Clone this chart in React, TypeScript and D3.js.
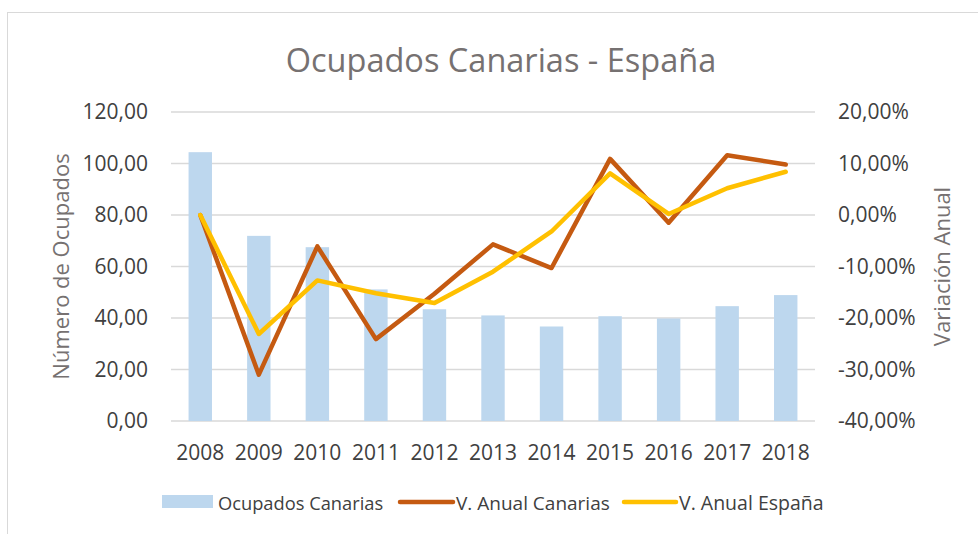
import React from "react";
import * as d3 from "d3";

const years = ["2008","2009","2010","2011","2012","2013","2014","2015","2016","2017","2018"];
const ocupadosCanarias = [104.4, 71.9, 67.5, 51.1, 43.4, 41.0, 36.7, 40.7, 39.8, 44.6, 48.9];
const varCanarias = [0.0, -31.0, -6.1, -24.1, -15.3, -5.7, -10.3, 10.9, -1.5, 11.6, 9.8];
const varEspana = [0.0, -23.1, -12.7, -15.2, -17.1, -11.0, -3.2, 8.1, 0.2, 5.2, 8.4];
const leftTicks = [0, 20, 40, 60, 80, 100, 120];
const rightTicks = [-40, -30, -20, -10, 0, 10, 20];

const FONT = "'Open Sans', 'Noto Sans', sans-serif";

export default function App() {
  const W = 978, H = 534;
  const x0 = 171, x1 = 815, yTop = 112, yBot = 421;
  const x = d3.scaleBand<string>().domain(years).range([x0, x1]).padding(0);
  const yL = d3.scaleLinear().domain([0, 120]).range([yBot, yTop]);
  const yR = d3.scaleLinear().domain([-40, 20]).range([yBot, yTop]);
  const cx = (d: string) => (x(d) as number) + x.bandwidth() / 2;
  const barW = x.bandwidth() * 0.4;

  const line = d3.line<number>().x((_, i) => cx(years[i])).y((v) => yR(v));
  const fmtL = (v: number) => v.toFixed(2).replace(".", ",");
  const fmtR = (v: number) => v.toFixed(2).replace(".", ",") + "%";

  return (
    <svg width={W} height={H} style={{ position: "absolute", left: 0, top: 0, background: "#fff" }} fontFamily={FONT}>
      <rect x={7.5} y={12.5} width={W} height={H} fill="#fff" stroke="#d9d9d9" strokeWidth={1} />
      <text x={501} y={72} textAnchor="middle" fontSize={32.5} fill="#767171">Ocupados Canarias - España</text>

      {leftTicks.map((t) => (
        <line key={"g" + t} x1={x0} x2={x1} y1={yL(t)} y2={yL(t)} stroke="#d9d9d9" strokeWidth={1.3} />
      ))}

      {years.map((yr, i) => (
        <rect key={"b" + yr} x={cx(yr) - barW / 2} y={yL(ocupadosCanarias[i])} width={barW}
          height={yBot - yL(ocupadosCanarias[i])} fill="#BDD7EE" />
      ))}

      <path d={line(varCanarias) || ""} fill="none" stroke="#C55A11" strokeWidth={4.5} strokeLinejoin="round" strokeLinecap="round" />
      <path d={line(varEspana) || ""} fill="none" stroke="#FFC000" strokeWidth={4.5} strokeLinejoin="round" strokeLinecap="round" />

      {leftTicks.map((t) => (
        <text key={"l" + t} x={148} y={yL(t)} dy="0.35em" textAnchor="end" fontSize={21} fill="#404040">{fmtL(t)}</text>
      ))}
      {rightTicks.map((t) => (
        <text key={"r" + t} x={838} y={yR(t)} dy="0.35em" textAnchor="start" fontSize={21} fill="#404040">{fmtR(t)}</text>
      ))}
      {years.map((yr) => (
        <text key={"x" + yr} x={cx(yr)} y={460} textAnchor="middle" fontSize={21} fill="#404040">{yr}</text>
      ))}

      <text transform={`translate(69,${(yTop + yBot) / 2}) rotate(-90)`} textAnchor="middle" fontSize={22} fill="#767171">Número de Ocupados</text>
      <text transform={`translate(950,${(yTop + yBot) / 2}) rotate(-90)`} textAnchor="middle" fontSize={22} fill="#767171">Variación Anual</text>

      <rect x={162} y={495} width={51} height={13} fill="#BDD7EE" />
      <text x={218} y={510} fontSize={18.3} fill="#404040">Ocupados Canarias</text>
      <line x1={400} x2={453} y1={502} y2={502} stroke="#C55A11" strokeWidth={4.5} strokeLinecap="round" />
      <text x={456} y={510} fontSize={19} fill="#404040">V. Anual Canarias</text>
      <line x1={624} x2={676} y1={502} y2={502} stroke="#FFC000" strokeWidth={4.5} strokeLinecap="round" />
      <text x={679} y={510} fontSize={19.5} fill="#404040">V. Anual España</text>
    </svg>
  );
}
